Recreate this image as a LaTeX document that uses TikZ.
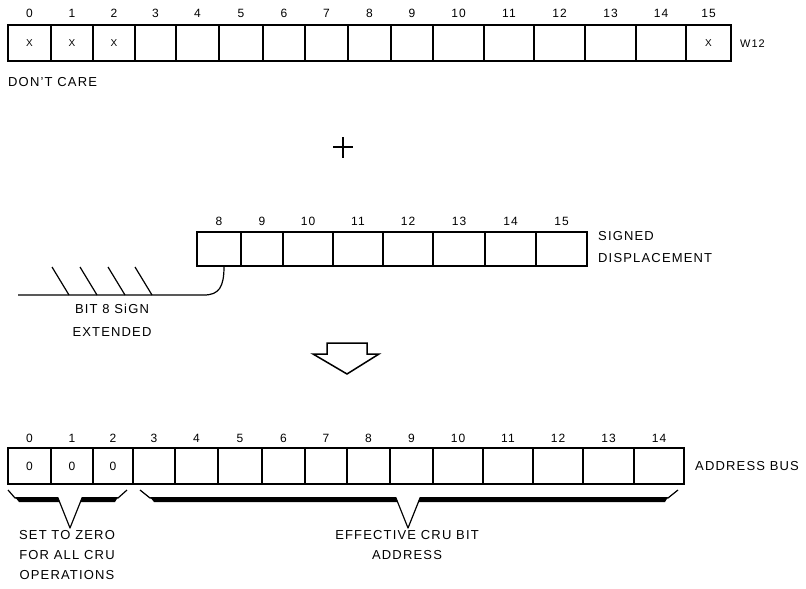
\documentclass[tikz,border=0pt]{standalone}
\usepackage{fontspec}
\setmainfont{Liberation Sans}[LetterSpace=9]
\begin{document}
\begin{tikzpicture}[x=1pt,y=-1pt,
  cell/.style={draw, line width=1.3pt, minimum height=36pt, inner sep=0pt, font=\fontsize{10}{12}\selectfont},
  zcell/.style={cell, font=\fontsize{12}{14}\selectfont},
  num/.style={font=\fontsize{12}{14}\selectfont, inner sep=0pt},
  lbl/.style={font=\fontsize{13}{20}\selectfont, inner sep=0pt},
  thin/.style={line width=1.2pt, line join=round},
]
\useasboundingbox (0,0) rectangle (806,589);
% ---------- top register W12 ----------
\foreach \a/\b/\i/\t in {8/51/0/X, 51/93/1/X, 93/135/2/X, 135/176/3/{}, 176/219/4/{}, 219/263/5/{}, 263/305/6/{}, 305/348/7/{}, 348/391/8/{}, 391/433/9/{}, 433/484/10/{}, 484/534/11/{}, 534/585/12/{}, 585/636/13/{}, 636/686/14/{}, 686/731/15/X}{
  \node[cell, minimum width={(\b-\a)*1pt}] (t\i) at ({(\a+\b)/2},43) {\t};
  \node[num] (tn\i) at ({(\a+\b)/2},13) {\i};
}
\node[font=\fontsize{11}{12}\selectfont, anchor=west, inner sep=0pt] (w12) at (740,44) {W12};
\node[lbl, anchor=west] (dc) at (8,82) {DON'T CARE};
% ---------- plus ----------
\draw[line width=1.8pt] (333,147) -- (353,147);
\draw[line width=1.8pt] (343,137) -- (343,158);
% ---------- signed displacement ----------
\foreach \a/\b/\i in {197/241/8, 241/283/9, 283/333/10, 333/383/11, 383/433/12, 433/485/13, 485/536/14, 536/587/15}{
  \node[cell, minimum height=34pt, minimum width={(\b-\a)*1pt}] (m\i) at ({(\a+\b)/2},249) {};
  \node[num] (mn\i) at ({(\a+\b)/2},221) {\i};
}
\node[lbl, anchor=west, align=left, font=\fontsize{13}{22}\selectfont] (sd) at (598,247) {SIGNED\\DISPLACEMENT};
\coordinate (ext) at (18,295);
\draw[thin] (ext) -- (204,295) .. controls (219,295) and (224,287) .. (m8.south -| 224,266);
\foreach \x in {52,80,108,135}{
  \draw[thin] (\x,267) -- (\x+17,295);
}
\node[lbl, align=center, font=\fontsize{13}{23}\selectfont] (b8) at (112,320) {BIT 8 SiGN\\EXTENDED};
% ---------- down arrow ----------
\draw[line width=1.5pt, line join=miter] (327,343) -- (367,343) -- (367,354) -- (379,354) -- (347,374) -- (313,354) -- (327,354) -- cycle;
% ---------- address bus ----------
\foreach \a/\b/\i/\t in {8/51/0/0, 51/93/1/0, 93/133/2/0, 133/175/3/{}, 175/218/4/{}, 218/262/5/{}, 262/305/6/{}, 305/347/7/{}, 347/390/8/{}, 390/433/9/{}, 433/483/10/{}, 483/533/11/{}, 533/583/12/{}, 583/634/13/{}, 634/684/14/{}}{
  \node[zcell, minimum width={(\b-\a)*1pt}] (b\i) at ({(\a+\b)/2},466) {\t};
  \node[num] (bn\i) at ({(\a+\b)/2},438) {\i};
}
\node[lbl, anchor=west] (ab) at (695,466) {ADDRESS BUS};
% ---------- braces ----------
\draw[thin] (8,490) -- (15,498) -- (58,498) -- (70,528) -- (82,498) -- (118,498) -- (127,490);
\fill (15,497) -- (58,497) -- (59.8,502) -- (19,502) -- cycle;
\fill (82,497) -- (118,497) -- (115,502) -- (80.2,502) -- cycle;
\draw[thin] (140,490) -- (150,498) -- (396,498) -- (408,528) -- (420,498) -- (668,498) -- (678,490);
\fill (150,497) -- (396,497) -- (397.8,502) -- (154,502) -- cycle;
\fill (420,497) -- (668,497) -- (665,502) -- (418.2,502) -- cycle;
\node[lbl, align=center] (sz) at (67,555) {SET TO ZERO\\FOR ALL CRU\\OPERATIONS};
\node[lbl, align=center] (ea) at (407,545) {EFFECTIVE CRU BIT\\ADDRESS};
\end{tikzpicture}
\end{document}
